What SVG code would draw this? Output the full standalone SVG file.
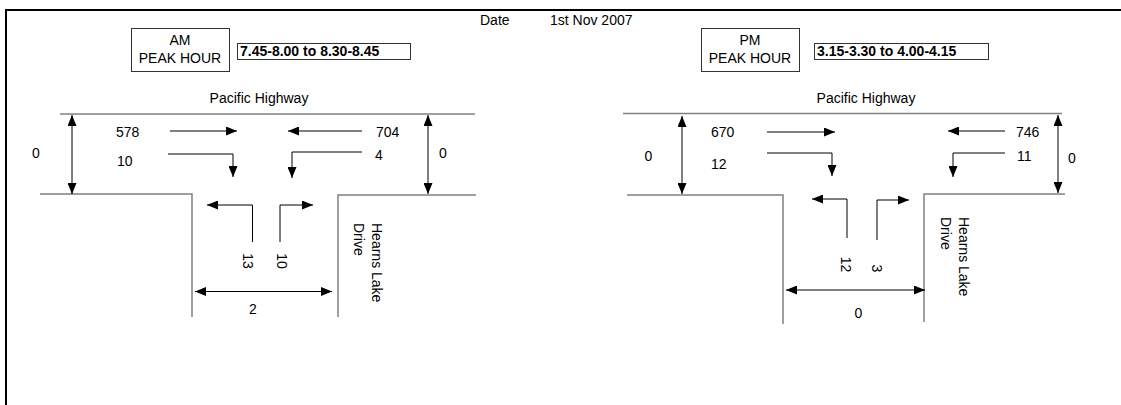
<svg xmlns="http://www.w3.org/2000/svg" width="1121" height="405" viewBox="0 0 1121 405">
<defs>
<marker id="ah" viewBox="0 0 11 9" refX="11" refY="4.5" markerWidth="11" markerHeight="9" markerUnits="userSpaceOnUse" orient="auto-start-reverse"><path d="M0,0 L11,4.5 L0,9 z" fill="#000"/></marker>
</defs>
<style>
text{font-family:"Liberation Sans",Arial,sans-serif;font-size:14px;fill:#000}
.b{font-weight:bold}
.m{text-anchor:middle}
.frame{stroke:#000;stroke-width:2;fill:none}
.road{stroke:#808080;stroke-width:1.5;fill:none}
.arr{stroke:#000;stroke-width:1;fill:none;marker-end:url(#ah)}
.dbl{stroke:#000;stroke-width:1;fill:none;marker-start:url(#ah);marker-end:url(#ah)}
.box{fill:#fff;stroke:#333;stroke-width:1}
</style>
<rect width="1121" height="405" fill="#fff"/>
<path class="frame" d="M6,405 V10 H1121"/>
<text x="480" y="25">Date</text>
<text x="550" y="25">1st Nov 2007</text>

<g id="am-title">
<rect class="box" x="131.5" y="28.5" width="98" height="43"/>
<text class="m" x="180" y="45">AM</text>
<text class="m" x="180" y="63">PEAK HOUR</text>
<rect class="box" x="237.5" y="43.5" width="173" height="16"/>
<text class="b" x="240" y="56">7.45-8.00 to 8.30-8.45</text>
</g>

<g id="am-roads">
<path class="road" d="M60,114 H475"/>
<path class="road" d="M40,194 H192 V317"/>
<path class="road" d="M476,195 H338 V317"/>
<text class="m" x="259" y="103">Pacific Highway</text>
<text transform="translate(372,223) rotate(90)">Hearns Lake</text>
<text transform="translate(354,223) rotate(90)">Drive</text>
</g>

<g id="am-connectors">
<path class="dbl" d="M72,115 V194"/>
<path class="dbl" d="M428,115 V194"/>
<path class="arr" d="M170,131 H237"/>
<path class="arr" d="M168,154 H233 V177"/>
<path class="arr" d="M362,131 H288"/>
<path class="arr" d="M362,152 H292 V178"/>
<path class="arr" d="M252.5,242 V205 H207"/>
<path class="arr" d="M280,242 V205 H313"/>
<path class="dbl" d="M195,291.5 H332"/>
</g>

<g id="am-labels">
<text class="m" x="36" y="158">0</text>
<text class="m" x="443" y="158">0</text>
<text x="116" y="137">578</text>
<text x="117" y="166">10</text>
<text x="376" y="137">704</text>
<text x="375" y="160">4</text>
<text class="m" x="253" y="314">2</text>
<text class="m" transform="translate(242.5,261) rotate(90)">13</text>
<text class="m" transform="translate(277,261) rotate(90)">10</text>
</g>

<g id="pm-title">
<rect class="box" x="701.5" y="28.5" width="98" height="43"/>
<text class="m" x="750" y="45">PM</text>
<text class="m" x="750" y="63">PEAK HOUR</text>
<rect class="box" x="814.5" y="43.5" width="174" height="16"/>
<text class="b" x="817" y="56">3.15-3.30 to 4.00-4.15</text>
</g>

<g id="pm-roads">
<path class="road" d="M623,113.5 H1062"/>
<path class="road" d="M627,195 H783 V324"/>
<path class="road" d="M1065,194 H924 V322"/>
<text class="m" x="866" y="103">Pacific Highway</text>
<text transform="translate(959,217) rotate(90)">Hearns Lake</text>
<text transform="translate(941,217) rotate(90)">Drive</text>
</g>

<g id="pm-connectors">
<path class="dbl" d="M682,116 V194"/>
<path class="dbl" d="M1058,115 V193"/>
<path class="arr" d="M767,132 H835"/>
<path class="arr" d="M767,153 H832 V176"/>
<path class="arr" d="M1005,131 H948"/>
<path class="arr" d="M1005,153 H953 V177"/>
<path class="arr" d="M847,238 V199 H812"/>
<path class="arr" d="M877,240 V200 H909"/>
<path class="dbl" d="M786,290 H925"/>
</g>

<g id="pm-labels">
<text class="m" x="648.5" y="161">0</text>
<text class="m" x="1072" y="163">0</text>
<text x="711" y="137">670</text>
<text x="711" y="169">12</text>
<text x="1016" y="137">746</text>
<text x="1017" y="161">11</text>
<text class="m" x="858.5" y="318">0</text>
<text class="m" transform="translate(840.5,264.5) rotate(90)">12</text>
<text class="m" transform="translate(872,268.5) rotate(90)">3</text>
</g>
</svg>
